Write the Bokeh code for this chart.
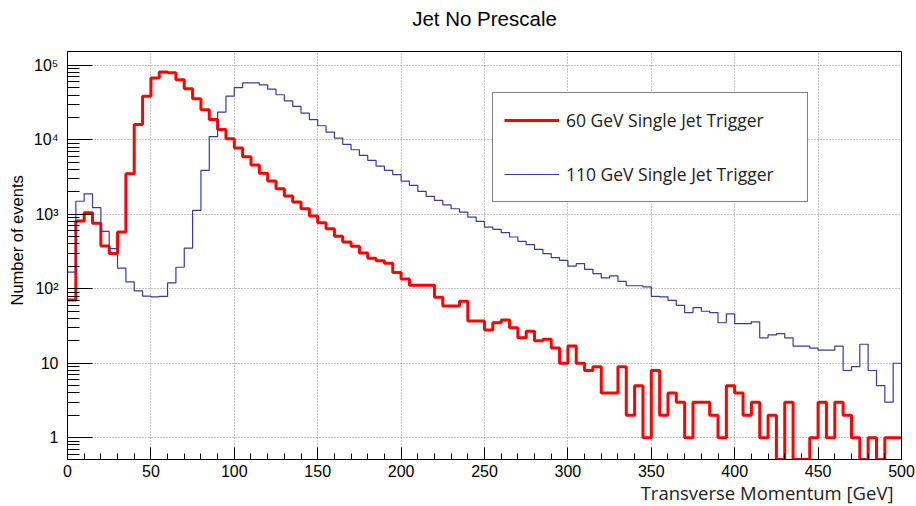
import numpy as np
from bokeh.plotting import figure
from bokeh.models import (Range1d, ColumnDataSource, Legend, LegendItem, Title,
                          LinearAxis, FixedTicker, SingleIntervalTicker,
                          LogTicker, CustomJSTickFormatter)
from bokeh.embed import file_html
from bokeh.resources import INLINE

# ---------------- data ----------------
bin_width = 5
x_min, x_max = 0, 500

red_60 = [71, 815, 1050, 760, 376, 297, 580, 3515, 16100, 38700,
          67600, 81400, 79800, 64200, 48600, 35700, 25400, 18800, 13800, 10400,
          7800, 5950, 4600, 3560, 2800, 2210, 1760, 1465, 1190, 950,
          773, 643, 507, 426, 372, 303, 258, 238, 220, 166,
          136, 112, 112, 112, 77, 59, 59, 68, 37, 37,
          28, 35, 38, 30, 22, 27, 20, 21, 16, 10,
          17, 10, 8, 9, 4, 4, 9, 2, 5, 1,
          8, 2, 4, 3, 1, 3, 3, 2, 1, 5,
          4, 2, 3, 1, 2, 0, 3, 0, 0, 1,
          3, 1, 3, 2, 1, 0, 1, 0, 1, 1]

blue_110 = [168, 1500, 1890, 1230, 590, 346, 190, 124, 94, 80,
            78, 79, 120, 195, 353, 1130, 3900, 11100, 23600, 38700,
            50500, 58500, 58500, 55000, 48100, 40400, 33500, 28200, 22900, 18700,
            15500, 12700, 10600, 8710, 7380, 6190, 5310, 4450, 3900, 3410,
            2800, 2450, 2040, 1745, 1540, 1340, 1190, 1075, 921, 805,
            676, 629, 568, 497, 435, 392, 339, 297, 262, 241,
            202, 218, 183, 160, 140, 149, 126, 110, 110, 106,
            79, 78, 70, 60, 48, 56, 50, 48, 35, 46,
            34, 34, 36, 22, 24, 25, 22, 17, 17, 16,
            15, 15, 17, 8, 9, 18, 8, 5, 3, 10]

series_labels = ["60 GeV Single Jet Trigger", "110 GeV Single Jet Trigger"]
title_text = "Jet No Prescale"
x_title = "Transverse Momentum [GeV]"
y_title = "Number of events"

# ---------------- figure ----------------
y_lo, y_hi = 0.51, 1.54e5
root_font = "Liberation Sans"
win_font = "Open Sans"

p = figure(width=916, height=506,
           x_range=Range1d(x_min, x_max), y_range=Range1d(y_lo, y_hi),
           y_axis_type="log", output_backend="svg", toolbar_location=None,
           min_border_left=67, min_border_right=15,
           min_border_top=51, min_border_bottom=47)
p.title.visible = False
p.background_fill_color = "white"
p.border_fill_color = "white"
p.outline_line_color = "black"
p.outline_line_width = 1
p.outline_line_alpha = 1

edges = np.arange(x_min, x_max + bin_width, bin_width)


def step_source(vals):
    v = np.asarray(vals, dtype=float)
    v = np.where(v > 0, v, y_lo)
    return ColumnDataSource(dict(x=edges, y=np.append(v, v[-1])))


r_red = p.step("x", "y", source=step_source(red_60), mode="after",
               line_color="#ff0000", line_width=3)
r_blue = p.step("x", "y", source=step_source(blue_110), mode="after",
                line_color="#3a3a9e", line_width=1.2)

# ---------------- axes ----------------
xa = p.xaxis[0]
xa.ticker = SingleIntervalTicker(interval=50, num_minor_ticks=5)
xa.major_tick_in = 12
xa.major_tick_out = 0
xa.minor_tick_in = 6
xa.minor_tick_out = 0
xa.major_label_standoff = 5
xa.major_label_text_font = root_font
xa.major_label_text_font_size = "16px"
xa.major_label_text_color = "black"
xa.axis_line_color = "black"

ya = p.yaxis[0]
ya.ticker = LogTicker(num_minor_ticks=10)
ya.formatter = CustomJSTickFormatter(code="""
    const e = Math.round(Math.log10(tick));
    const sup = ["\u2070","\u00b9","\u00b2","\u00b3","\u2074","\u2075","\u2076","\u2077","\u2078","\u2079"];
    if (e === 0) return "1";
    if (e === 1) return "10";
    return "10" + sup[e];
""")
ya.major_tick_in = 25
ya.major_tick_out = 0
ya.minor_tick_in = 12
ya.minor_tick_out = 0
ya.major_label_standoff = 9
ya.major_label_text_font = root_font
ya.major_label_text_font_size = "16px"
ya.major_label_text_color = "black"
ya.axis_line_color = "black"

for g in (p.xgrid[0], p.ygrid[0]):
    g.grid_line_color = "#7a7a7a"
    g.grid_line_dash = "1 2"
    g.grid_line_width = 1
    g.grid_line_alpha = 0.9

# ---------------- titles ----------------
top_axis = LinearAxis(ticker=FixedTicker(ticks=[]), axis_label=title_text,
                      axis_label_standoff=22,
                      axis_label_text_font=root_font,
                      axis_label_text_font_size="20.5px",
                      axis_label_text_font_style="normal",
                      axis_label_text_color="black",
                      major_tick_in=0, major_tick_out=0,
                      minor_tick_in=0, minor_tick_out=0,
                      major_label_standoff=0, axis_line_color=None)
p.add_layout(top_axis, "above")

p.add_layout(Title(text=y_title, align="left", offset=154, standoff=10,
                   vertical_align="bottom", text_font=root_font,
                   text_font_size="16.5px", text_font_style="normal",
                   text_color="black"), "left")

p.add_layout(Title(text=x_title, align="right", offset=8, standoff=0,
                   vertical_align="top", text_font=win_font,
                   text_font_size="18.5px", text_font_style="normal",
                   text_color="#222222"), "below")

# ---------------- legend ----------------
legend = Legend(items=[LegendItem(label=series_labels[0], renderers=[r_red]),
                       LegendItem(label=series_labels[1], renderers=[r_blue])],
                location=(425, 257), orientation="vertical",
                glyph_width=55, glyph_height=32, spacing=22, padding=11,
                label_standoff=7, label_width=230, margin=0,
                label_text_font=win_font, label_text_font_size="17.5px",
                label_text_color="#222222",
                border_line_color="black", border_line_width=1,
                background_fill_color="white", background_fill_alpha=1)
p.add_layout(legend, "center")

open("out.html", "w").write(file_html(p, INLINE))
